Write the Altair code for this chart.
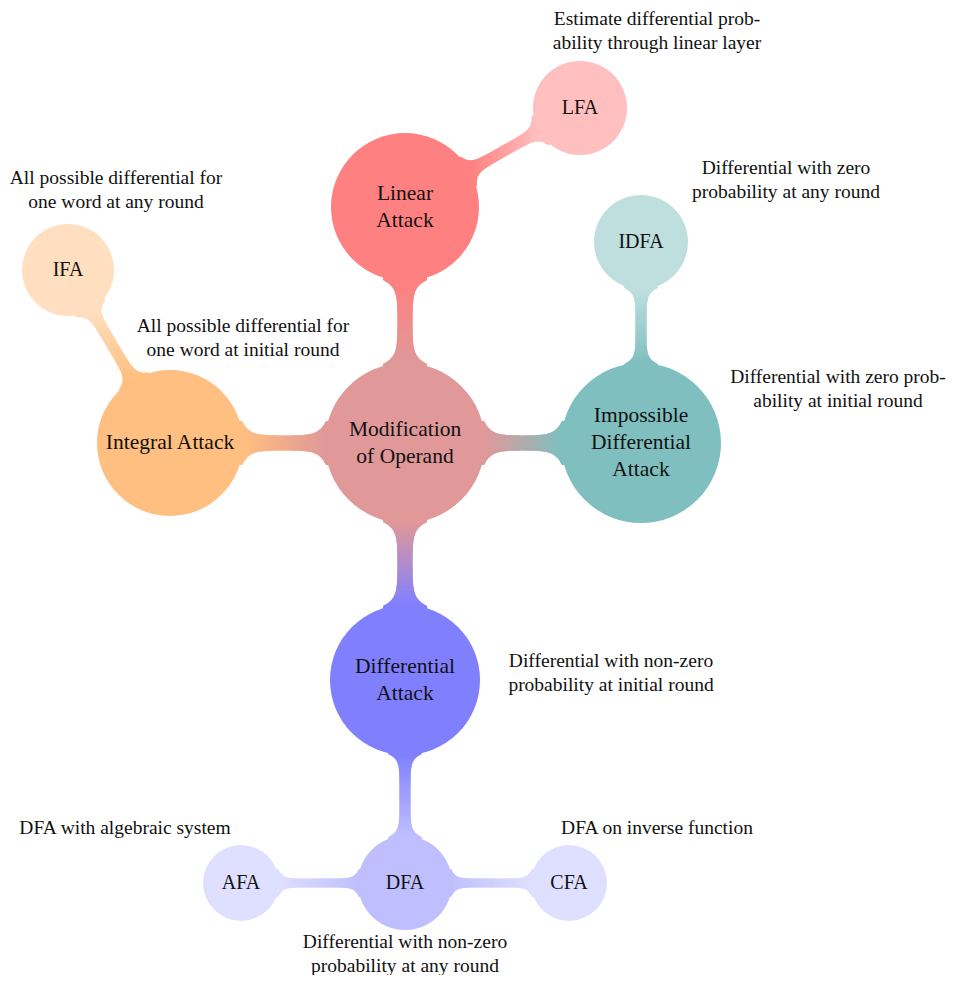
import math
import numpy as np
import altair as alt
import pandas as pd

# ---- nodes (layout of the mind map, in page pixels) ----
node_id = ["center", "linear", "lfa", "integral", "ifa", "impossible", "idfa",
           "differential", "dfa", "afa", "cfa"]
node_label = ["Modification\nof Operand", "Linear\nAttack", "LFA", "Integral Attack", "IFA",
              "Impossible\nDifferential\nAttack", "IDFA", "Differential\nAttack", "DFA", "AFA", "CFA"]
node_x = [405, 405, 580, 170, 68, 641, 641, 405, 405, 241, 569]
node_y = [443, 207, 108, 443, 270, 443, 242, 680, 883, 883, 883]
node_r = [80, 74, 47, 73, 46, 80, 47, 75, 47, 38, 38]
node_color = ["#e09898", "#ff8080", "#ffbfbf", "#ffbf80", "#ffdfbf", "#80bfbf", "#bfdfdf",
              "#8080ff", "#bfbfff", "#dfdfff", "#dfdfff"]
node_font = [21.5, 21.5, 20, 21.5, 20, 21.5, 20, 21.5, 20, 20, 20]

# ---- edges ----
edge_from = ["center", "linear", "center", "integral", "center", "impossible",
             "center", "differential", "dfa", "dfa"]
edge_to = ["linear", "lfa", "integral", "ifa", "impossible", "idfa",
           "differential", "dfa", "afa", "cfa"]
edge_neck = [15, 11, 15, 11, 15, 11, 15, 11, 9, 9]

# ---- annotations ----
ann_text = [
    "Estimate differential prob-\nability through linear layer",
    "Differential with zero\nprobability at any round",
    "All possible differential for\none word at any round",
    "All possible differential for\none word at initial round",
    "Differential with zero prob-\nability at initial round",
    "Differential with non-zero\nprobability at initial round",
    "DFA with algebraic system",
    "DFA on inverse function",
    "Differential with non-zero\nprobability at any round",
]
ann_x = [657, 786, 116, 243, 838, 611, 125, 657, 405]
ann_y = [19, 168, 178, 326, 377, 661, 828, 828, 942]

FONT = "Liberation Serif"
NODE_LH = 27
ANN_LH = 23.5

xs = alt.Scale(domain=[8, 949], nice=False, zero=False)
ys = alt.Scale(domain=[8, 975], nice=False, zero=False, reverse=True)

nodes = pd.DataFrame({
    "id": node_id, "label": node_label, "x": node_x, "r": node_r,
    "color": node_color, "fs": node_font, "y": node_y,
})
nodes["area"] = [4 * r * r for r in node_r]
nodes["ty"] = [y - (lab.count("\n")) * NODE_LH / 2 for y, lab in zip(node_y, node_label)]
pos = {i: (x, y, r, c) for i, x, y, r, c in zip(node_id, node_x, node_y, node_r, node_color)}


def hex2rgb(h):
    h = h.lstrip("#")
    return [int(h[i:i + 2], 16) for i in (0, 2, 4)]


def mix(c1, c2, f):
    a, b = hex2rgb(c1), hex2rgb(c2)
    return "#" + "".join(f"{int(round(x + (y - x) * f)):02x}" for x, y in zip(a, b))


def band_polygon(ax, ay, ar, bx, by, br, neck):
    dx, dy = bx - ax, by - ay
    L = math.hypot(dx, dy)
    ux, uy = dx / L, dy / L
    nx, ny = -uy, ux
    n0 = neck / 2.0
    F = n0 * 1.67
    k = 7.0 * neck / 15.0
    sA, sB = ar, L - br
    hmax = n0 + F + 2
    s0 = math.sqrt(ar * ar - hmax * hmax) - 1
    s1 = L - (math.sqrt(br * br - hmax * hmax) - 1)
    ss = np.arange(s0, s1 + 0.25, 0.5)
    h = n0 + F * np.exp(-(ss - sA) / k) + F * np.exp(-(sB - ss) / k)
    h = np.minimum(h, hmax)
    left = np.stack([ax + ux * ss + nx * h, ay + uy * ss + ny * h], axis=1)
    right = np.stack([ax + ux * ss - nx * h, ay + uy * ss - ny * h], axis=1)
    poly = np.concatenate([left, right[::-1]], axis=0)
    return poly, abs(dy) >= abs(dx), (ux, uy), sA, sB


rect_rows = []
for a, b, neck in zip(edge_from, edge_to, edge_neck):
    ax, ay, ar, ac = pos[a]
    bx, by, br, bc = pos[b]
    poly, vertical, (ux, uy), sA, sB = band_polygon(ax, ay, ar, bx, by, br, neck)
    ia = 1 if vertical else 0
    ib = 0 if vertical else 1
    p = poly
    q = np.roll(poly, -1, axis=0)
    lo, hi = p[:, ia].min(), p[:, ia].max()
    t = math.floor(lo) + 0.5
    while t < hi:
        pa, qa = p[:, ia], q[:, ia]
        m = ((pa <= t) & (qa > t)) | ((qa <= t) & (pa > t))
        if m.any():
            fr = (t - pa[m]) / (qa[m] - pa[m])
            vals = p[m, ib] + fr * (q[m, ib] - p[m, ib])
            v0, v1 = vals.min(), vals.max()
            if vertical:
                cx, cy = (v0 + v1) / 2, t
                row = {"x": v0, "x2": v1, "y": t - 0.5, "y2": t + 0.5}
            else:
                cx, cy = t, (v0 + v1) / 2
                row = {"x": t - 0.5, "x2": t + 0.5, "y": v0, "y2": v1}
            s = (cx - ax) * ux + (cy - ay) * uy
            f = min(1.0, max(0.0, (s - sA) / (sB - sA)))
            row["c"] = mix(ac, bc, f)
            rect_rows.append(row)
        t += 0.5

bands = alt.Chart(pd.DataFrame(rect_rows)).mark_rect(strokeWidth=0).encode(
    x=alt.X("x:Q", scale=xs, axis=None),
    x2="x2:Q",
    y=alt.Y("y:Q", scale=ys, axis=None),
    y2="y2:Q",
    color=alt.Color("c:N", scale=None),
)

circles = alt.Chart(nodes).mark_circle(opacity=1).encode(
    x=alt.X("x:Q", scale=xs, axis=None),
    y=alt.Y("y:Q", scale=ys, axis=None),
    size=alt.Size("area:Q", scale=None, legend=None),
    color=alt.Color("color:N", scale=None),
)

labels = alt.Chart(nodes).mark_text(
    font=FONT, align="center", baseline="middle", lineBreak="\n", lineHeight=NODE_LH,
    color="#111111"
).encode(
    x=alt.X("x:Q", scale=xs, axis=None),
    y=alt.Y("ty:Q", scale=ys, axis=None),
    text="label:N",
    size=alt.Size("fs:Q", scale=None, legend=None),
)

ann = pd.DataFrame({"text": ann_text, "x": ann_x, "y": ann_y})
notes = alt.Chart(ann).mark_text(
    font=FONT, fontSize=19.5, align="center", baseline="middle", lineBreak="\n",
    lineHeight=ANN_LH, color="#111111"
).encode(
    x=alt.X("x:Q", scale=xs, axis=None),
    y=alt.Y("y:Q", scale=ys, axis=None),
    text="text:N",
)

chart = alt.layer(bands, circles, labels, notes).properties(
    width=941, height=967, padding=0, autosize=alt.AutoSizeParams(type="none")
).configure_view(stroke=None)

chart.save("out.html", embed_options={"renderer": "svg", "actions": False})
